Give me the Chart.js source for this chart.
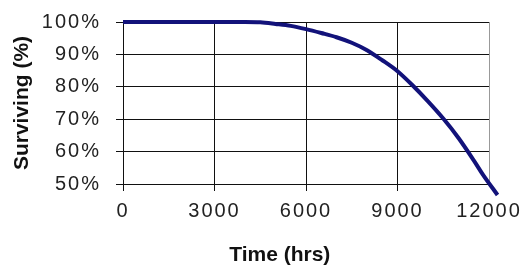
<!DOCTYPE html>
<html lang="en">
<head>
    <meta charset="UTF-8">
    <title>Surviving vs Time</title>
    <script src="https://cdn.jsdelivr.net/npm/chart.js"></script>
    <style>
        body { margin: 0; background: #fff; }
        #wrap { width: 528px; height: 273px; }
    </style>
</head>
<body>
    <div id="wrap">
        <canvas id="myChart"></canvas>
    </div>
    <script>
        // data
        const hours = [0, 1000, 2000, 3000, 4000, 4500, 5000, 5500, 6000, 6500, 7000, 7500, 8000, 8500, 9000, 9500, 10000, 10500, 11000, 11500, 11800, 12280];
        const surviving = [100, 100, 100, 100, 100, 99.9, 99.4, 98.8, 97.8, 96.6, 95.3, 93.6, 91.3, 88.2, 84.8, 80.4, 75.5, 70.2, 64.2, 57.3, 52.9, 46.6];
        const xTicks = [0, 3000, 6000, 9000, 12000];
        const yTicks = [50, 60, 70, 80, 90, 100];

        Chart.defaults.font.family = "'Liberation Sans', Arial, sans-serif";

        // tick labels in the original are widely spaced
        function spaceLabels(scale) {
            if (scale._spaced) return;
            scale._spaced = true;
            const orig = scale.drawLabels.bind(scale);
            scale.drawLabels = (area) => {
                const c = scale.ctx;
                c.save();
                c.letterSpacing = '2px';
                orig(area);
                c.restore();
            };
        }

        const ctx = document.getElementById('myChart');
        new Chart(ctx, {
            type: 'line',
            data: {
                datasets: [{
                    label: 'Surviving',
                    data: hours.map((h, i) => ({ x: h, y: surviving[i] })),
                    borderColor: '#12127a',
                    borderWidth: 4,
                    pointRadius: 0,
                    cubicInterpolationMode: 'monotone',
                    clip: false
                }]
            },
            options: {
                responsive: true,
                maintainAspectRatio: false,
                animation: false,
                layout: { padding: { left: 0, right: 39, top: 22, bottom: 0 } },
                plugins: { legend: { display: false }, tooltip: { enabled: false } },
                scales: {
                    x: {
                        type: 'linear',
                        min: 0,
                        max: 12000,
                        afterBuildTicks: (s) => { s.ticks = xTicks.map(v => ({ value: v })); },
                        afterFit: (s) => { s.height = 89; spaceLabels(s); },
                        grid: {
                            color: (c) => c.tick && c.tick.value === 12000 ? '#999' : '#111',
                            tickColor: (c) => c.tick && c.tick.value === 12000 ? 'rgba(0,0,0,0)' : '#111',
                            tickLength: 7,
                            lineWidth: 1
                        },
                        border: { color: '#111' },
                        ticks: {
                            color: '#222',
                            font: { size: 20 },
                            padding: 8,
                            maxRotation: 0,
                            callback: (v) => String(v)
                        },
                        title: {
                            display: true,
                            text: 'Time (hrs)         ',
                            color: '#111',
                            font: { size: 21, weight: 'bold' },
                            padding: { top: 0, bottom: 5 }
                        }
                    },
                    y: {
                        min: 50,
                        max: 100,
                        afterBuildTicks: (s) => { s.ticks = yTicks.map(v => ({ value: v })); },
                        afterFit: (s) => {
                            s.width = 123;
                            s.paddingTop = 0;
                            s.paddingBottom = 0;
                            spaceLabels(s);
                        },
                        grid: { color: '#111', tickLength: 7, lineWidth: 1 },
                        border: { color: '#111' },
                        ticks: {
                            color: '#222',
                            font: { size: 20 },
                            padding: 15,
                            callback: (v) => v + '%'
                        },
                        title: {
                            display: true,
                            text: 'Surviving (%)',
                            color: '#111',
                            font: { size: 21, weight: 'bold' },
                            padding: { top: 10, bottom: 0 }
                        }
                    }
                }
            }
        });
    </script>
</body>
</html>
